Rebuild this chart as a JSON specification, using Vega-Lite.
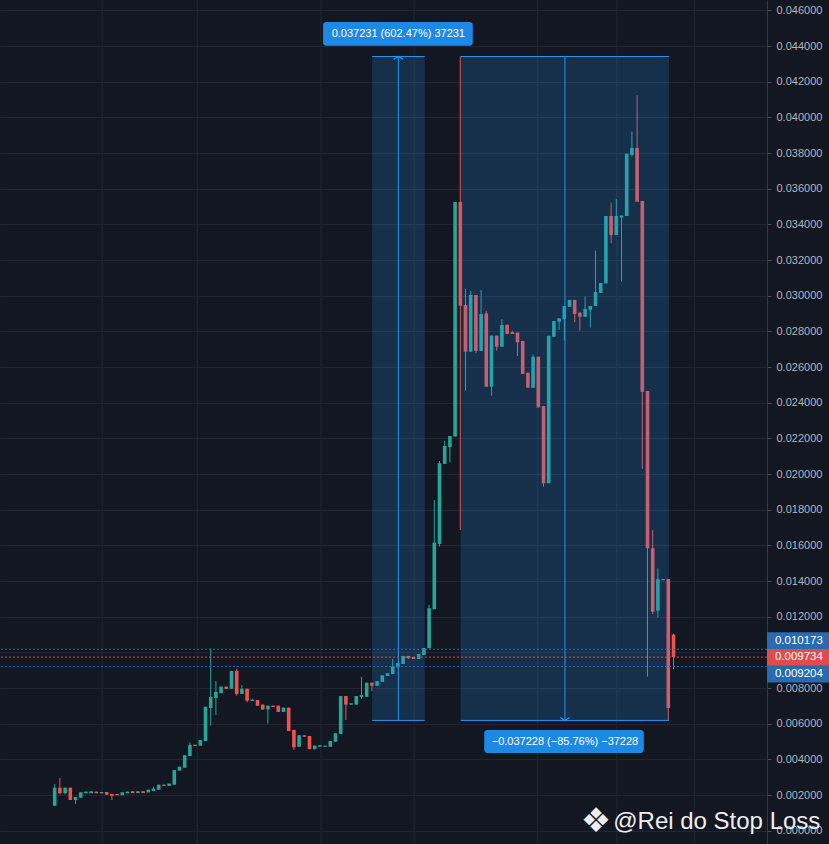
{
  "$schema": "https://vega.github.io/schema/vega-lite/v6.json",
  "width": 767,
  "height": 844,
  "autosize": {"type": "none"},
  "padding": {"left": 0, "top": 0, "right": 62, "bottom": 0},
  "background": "#131722",
  "config": {"view": {"stroke": null}, "font": "Liberation Sans", "scale": {"continuousPadding": 0}},
  "resolve": {"axis": {"y": "independent"}},
  "datasets": {
    "candles": [
      {"i": 0, "o": 0.0014, "h": 0.00262, "l": 0.0014, "c": 0.00241},
      {"i": 1, "o": 0.00241, "h": 0.00296, "l": 0.00204, "c": 0.0021},
      {"i": 2, "o": 0.0021, "h": 0.00241, "l": 0.00204, "c": 0.00241},
      {"i": 3, "o": 0.00241, "h": 0.00241, "l": 0.00172, "c": 0.00172},
      {"i": 4, "o": 0.00172, "h": 0.00189, "l": 0.0015, "c": 0.00189},
      {"i": 5, "o": 0.00185, "h": 0.00215, "l": 0.00185, "c": 0.00215},
      {"i": 6, "o": 0.0021, "h": 0.00219, "l": 0.0021, "c": 0.00219},
      {"i": 7, "o": 0.0021, "h": 0.00221, "l": 0.0021, "c": 0.00221},
      {"i": 8, "o": 0.00219, "h": 0.00219, "l": 0.0021, "c": 0.0021},
      {"i": 9, "o": 0.0021, "h": 0.00217, "l": 0.0021, "c": 0.00217},
      {"i": 10, "o": 0.00217, "h": 0.00217, "l": 0.00202, "c": 0.00202},
      {"i": 11, "o": 0.00206, "h": 0.00206, "l": 0.00172, "c": 0.00196},
      {"i": 12, "o": 0.00206, "h": 0.00206, "l": 0.00199, "c": 0.00199},
      {"i": 13, "o": 0.00199, "h": 0.00215, "l": 0.00199, "c": 0.00215},
      {"i": 14, "o": 0.0021, "h": 0.00219, "l": 0.0021, "c": 0.00219},
      {"i": 15, "o": 0.00221, "h": 0.00221, "l": 0.00211, "c": 0.00211},
      {"i": 16, "o": 0.00211, "h": 0.00221, "l": 0.00211, "c": 0.00221},
      {"i": 17, "o": 0.00221, "h": 0.00221, "l": 0.00211, "c": 0.00211},
      {"i": 18, "o": 0.00215, "h": 0.0023, "l": 0.00215, "c": 0.0023},
      {"i": 19, "o": 0.00223, "h": 0.00247, "l": 0.00223, "c": 0.00236},
      {"i": 20, "o": 0.0023, "h": 0.00258, "l": 0.0023, "c": 0.00258},
      {"i": 21, "o": 0.00258, "h": 0.00258, "l": 0.00251, "c": 0.00251},
      {"i": 22, "o": 0.00251, "h": 0.00264, "l": 0.00251, "c": 0.00264},
      {"i": 23, "o": 0.00258, "h": 0.0034, "l": 0.00258, "c": 0.0034},
      {"i": 24, "o": 0.00337, "h": 0.00359, "l": 0.00337, "c": 0.00359},
      {"i": 25, "o": 0.00353, "h": 0.00423, "l": 0.00353, "c": 0.00423},
      {"i": 26, "o": 0.00419, "h": 0.00494, "l": 0.00419, "c": 0.00481},
      {"i": 27, "o": 0.00482, "h": 0.00482, "l": 0.00475, "c": 0.00475},
      {"i": 28, "o": 0.00477, "h": 0.00509, "l": 0.00477, "c": 0.00509},
      {"i": 29, "o": 0.00503, "h": 0.00695, "l": 0.00503, "c": 0.00695},
      {"i": 30, "o": 0.00688, "h": 0.01023, "l": 0.00589, "c": 0.0075},
      {"i": 31, "o": 0.00744, "h": 0.00839, "l": 0.00649, "c": 0.00778},
      {"i": 32, "o": 0.00771, "h": 0.00808, "l": 0.00771, "c": 0.00808},
      {"i": 33, "o": 0.00808, "h": 0.00808, "l": 0.00795, "c": 0.00795},
      {"i": 34, "o": 0.00796, "h": 0.00896, "l": 0.00796, "c": 0.00896},
      {"i": 35, "o": 0.00896, "h": 0.00907, "l": 0.00757, "c": 0.00767},
      {"i": 36, "o": 0.00767, "h": 0.00817, "l": 0.00767, "c": 0.00796},
      {"i": 37, "o": 0.00796, "h": 0.00796, "l": 0.0072, "c": 0.00729},
      {"i": 38, "o": 0.00727, "h": 0.0074, "l": 0.00727, "c": 0.00735},
      {"i": 39, "o": 0.00733, "h": 0.00733, "l": 0.00701, "c": 0.00701},
      {"i": 40, "o": 0.00707, "h": 0.00707, "l": 0.00679, "c": 0.00679},
      {"i": 41, "o": 0.00681, "h": 0.00701, "l": 0.006, "c": 0.00701},
      {"i": 42, "o": 0.00701, "h": 0.00701, "l": 0.00694, "c": 0.00694},
      {"i": 43, "o": 0.00701, "h": 0.00701, "l": 0.00666, "c": 0.00666},
      {"i": 44, "o": 0.00666, "h": 0.0069, "l": 0.00666, "c": 0.0069},
      {"i": 45, "o": 0.0069, "h": 0.0069, "l": 0.00559, "c": 0.00559},
      {"i": 46, "o": 0.00565, "h": 0.00565, "l": 0.00453, "c": 0.00468},
      {"i": 47, "o": 0.00471, "h": 0.00535, "l": 0.00471, "c": 0.00535},
      {"i": 48, "o": 0.00535, "h": 0.00535, "l": 0.00527, "c": 0.00527},
      {"i": 49, "o": 0.00531, "h": 0.00531, "l": 0.00457, "c": 0.00457},
      {"i": 50, "o": 0.00457, "h": 0.00477, "l": 0.00457, "c": 0.00477},
      {"i": 51, "o": 0.00471, "h": 0.00479, "l": 0.00471, "c": 0.00479},
      {"i": 52, "o": 0.00471, "h": 0.00477, "l": 0.00471, "c": 0.00477},
      {"i": 53, "o": 0.00471, "h": 0.00503, "l": 0.00471, "c": 0.00503},
      {"i": 54, "o": 0.00499, "h": 0.00546, "l": 0.00499, "c": 0.00546},
      {"i": 55, "o": 0.00542, "h": 0.00755, "l": 0.00542, "c": 0.00755},
      {"i": 56, "o": 0.00755, "h": 0.00755, "l": 0.00621, "c": 0.00707},
      {"i": 57, "o": 0.00707, "h": 0.00714, "l": 0.00707, "c": 0.00714},
      {"i": 58, "o": 0.00707, "h": 0.00755, "l": 0.00707, "c": 0.00755},
      {"i": 59, "o": 0.0075, "h": 0.00862, "l": 0.0074, "c": 0.0076},
      {"i": 60, "o": 0.00751, "h": 0.0083, "l": 0.00751, "c": 0.0083},
      {"i": 61, "o": 0.0083, "h": 0.0083, "l": 0.00783, "c": 0.00813},
      {"i": 62, "o": 0.00813, "h": 0.00839, "l": 0.00813, "c": 0.00839},
      {"i": 63, "o": 0.00834, "h": 0.00871, "l": 0.00834, "c": 0.00871},
      {"i": 64, "o": 0.00868, "h": 0.00883, "l": 0.00867, "c": 0.00883},
      {"i": 65, "o": 0.00879, "h": 0.00963, "l": 0.00879, "c": 0.0092},
      {"i": 66, "o": 0.00916, "h": 0.0094, "l": 0.00916, "c": 0.0094},
      {"i": 67, "o": 0.00935, "h": 0.0098, "l": 0.00935, "c": 0.0098},
      {"i": 68, "o": 0.0098, "h": 0.0098, "l": 0.00963, "c": 0.00967},
      {"i": 69, "o": 0.00974, "h": 0.00974, "l": 0.00963, "c": 0.00963},
      {"i": 70, "o": 0.00963, "h": 0.00991, "l": 0.00963, "c": 0.00991},
      {"i": 71, "o": 0.00985, "h": 0.01024, "l": 0.00985, "c": 0.01024},
      {"i": 72, "o": 0.01023, "h": 0.01266, "l": 0.01023, "c": 0.01247},
      {"i": 73, "o": 0.01242, "h": 0.01854, "l": 0.01242, "c": 0.01615},
      {"i": 74, "o": 0.01608, "h": 0.02073, "l": 0.01593, "c": 0.0206},
      {"i": 75, "o": 0.02057, "h": 0.02187, "l": 0.02057, "c": 0.02157},
      {"i": 76, "o": 0.02151, "h": 0.02213, "l": 0.02066, "c": 0.02213},
      {"i": 77, "o": 0.0221, "h": 0.03525, "l": 0.0221, "c": 0.03525},
      {"i": 78, "o": 0.03525, "h": 0.04341, "l": 0.01686, "c": 0.02944},
      {"i": 79, "o": 0.02948, "h": 0.03039, "l": 0.02468, "c": 0.02686},
      {"i": 80, "o": 0.02686, "h": 0.03026, "l": 0.02686, "c": 0.03004},
      {"i": 81, "o": 0.03004, "h": 0.03004, "l": 0.02677, "c": 0.0269},
      {"i": 82, "o": 0.0269, "h": 0.03032, "l": 0.0269, "c": 0.02897},
      {"i": 83, "o": 0.02901, "h": 0.02914, "l": 0.0249, "c": 0.0249},
      {"i": 84, "o": 0.0249, "h": 0.02776, "l": 0.02439, "c": 0.02776},
      {"i": 85, "o": 0.02776, "h": 0.02776, "l": 0.02692, "c": 0.02714},
      {"i": 86, "o": 0.02714, "h": 0.02869, "l": 0.02714, "c": 0.02836},
      {"i": 87, "o": 0.02836, "h": 0.02842, "l": 0.02785, "c": 0.02785},
      {"i": 88, "o": 0.02795, "h": 0.02803, "l": 0.02785, "c": 0.02785},
      {"i": 89, "o": 0.02793, "h": 0.02793, "l": 0.02662, "c": 0.02739},
      {"i": 90, "o": 0.02746, "h": 0.02746, "l": 0.02561, "c": 0.02561},
      {"i": 91, "o": 0.02568, "h": 0.02568, "l": 0.02484, "c": 0.02484},
      {"i": 92, "o": 0.02484, "h": 0.02671, "l": 0.02484, "c": 0.02658},
      {"i": 93, "o": 0.02658, "h": 0.02658, "l": 0.02374, "c": 0.02374},
      {"i": 94, "o": 0.02381, "h": 0.02381, "l": 0.01929, "c": 0.01948},
      {"i": 95, "o": 0.01948, "h": 0.02776, "l": 0.01948, "c": 0.02776},
      {"i": 96, "o": 0.0277, "h": 0.02858, "l": 0.0277, "c": 0.02858},
      {"i": 97, "o": 0.02854, "h": 0.02873, "l": 0.02808, "c": 0.02873},
      {"i": 98, "o": 0.02868, "h": 0.02942, "l": 0.02748, "c": 0.02942},
      {"i": 99, "o": 0.02938, "h": 0.02976, "l": 0.02938, "c": 0.02976},
      {"i": 100, "o": 0.02976, "h": 0.02976, "l": 0.02851, "c": 0.02897},
      {"i": 101, "o": 0.02905, "h": 0.02905, "l": 0.02804, "c": 0.02882},
      {"i": 102, "o": 0.02882, "h": 0.02995, "l": 0.02882, "c": 0.02925},
      {"i": 103, "o": 0.0292, "h": 0.02942, "l": 0.02821, "c": 0.02942},
      {"i": 104, "o": 0.02942, "h": 0.03252, "l": 0.02942, "c": 0.03021},
      {"i": 105, "o": 0.03016, "h": 0.03071, "l": 0.03016, "c": 0.03071},
      {"i": 106, "o": 0.03069, "h": 0.03447, "l": 0.03069, "c": 0.03447},
      {"i": 107, "o": 0.03447, "h": 0.03522, "l": 0.03294, "c": 0.0334},
      {"i": 108, "o": 0.0334, "h": 0.03542, "l": 0.0334, "c": 0.03447},
      {"i": 109, "o": 0.03438, "h": 0.03449, "l": 0.03079, "c": 0.03449},
      {"i": 110, "o": 0.03447, "h": 0.03796, "l": 0.03447, "c": 0.03796},
      {"i": 111, "o": 0.03789, "h": 0.0392, "l": 0.0378, "c": 0.03828},
      {"i": 112, "o": 0.03828, "h": 0.04125, "l": 0.03527, "c": 0.03527},
      {"i": 113, "o": 0.03531, "h": 0.03531, "l": 0.02028, "c": 0.02462},
      {"i": 114, "o": 0.02466, "h": 0.02466, "l": 0.00864, "c": 0.01584},
      {"i": 115, "o": 0.01584, "h": 0.01686, "l": 0.01215, "c": 0.01228},
      {"i": 116, "o": 0.01234, "h": 0.01471, "l": 0.01195, "c": 0.01411},
      {"i": 117, "o": 0.01411, "h": 0.01411, "l": 0.01405, "c": 0.01405},
      {"i": 118, "o": 0.01411, "h": 0.01411, "l": 0.00618, "c": 0.00688},
      {"i": 119, "o": 0.011, "h": 0.01105, "l": 0.00905, "c": 0.009734}
    ],
    "timegrid": [{"i": 9.1}, {"i": 27.4}, {"i": 51.2}, {"i": 69.1}, {"i": 92.9}, {"i": 108.1}, {"i": 123.0}],
    "ranges": [
      {"start": 61.05, "end": 71.15, "mid": 66.08, "lo": 0.006183, "hi": 0.043411, "tip": 0.043411, "dir": "up"},
      {"start": 78.08, "end": 118.13, "mid": 98.13, "lo": 0.006183, "hi": 0.043411, "tip": 0.006183, "dir": "down"}
    ],
    "rangelabels": [
      {"start": 51.6, "end": 80.4, "mid": 66.08, "lo": 0.04401, "hi": 0.04535, "ty": 0.04468, "text": "0.037231 (602.47%) 37231"},
      {"start": 82.6, "end": 113.3, "mid": 98.13, "lo": 0.00436, "hi": 0.00564, "ty": 0.005, "text": "−0.037228 (−85.76%) −37228"}
    ],
    "pricelines": [
      {"p": 0.010173, "tag": 0.010654, "label": "0.010173", "kind": "level"},
      {"p": 0.009734, "tag": 0.009718, "label": "0.009734", "kind": "last"},
      {"p": 0.009204, "tag": 0.008787, "label": "0.009204", "kind": "level"}
    ]
  },
  "layer": [
    {
      "data": {"name": "timegrid"},
      "mark": {"type": "rule", "color": "#232632", "strokeWidth": 1},
      "encoding": {
        "x": {"field": "i", "type": "quantitative", "scale": {"domain": [-10.52, 136.98], "nice": false, "zero": false, "padding": 0}, "axis": null}
      }
    },
    {
      "data": {"name": "candles"},
      "mark": {"type": "rule", "strokeWidth": 1},
      "encoding": {
        "x": {"field": "i", "type": "quantitative", "scale": {"domain": [-10.52, 136.98], "nice": false, "zero": false, "padding": 0}, "axis": null},
        "y": {
          "field": "l", "type": "quantitative", "title": null,
          "scale": {"domain": [-0.000746, 0.04658], "nice": false, "zero": false, "padding": 0},
          "axis": {
            "orient": "right", "title": null,
            "values": [0, 0.002, 0.004, 0.006, 0.008, 0.010, 0.012, 0.014, 0.016, 0.018, 0.020, 0.022, 0.024, 0.026, 0.028, 0.030, 0.032, 0.034, 0.036, 0.038, 0.040, 0.042, 0.044, 0.046],
            "format": ".6f",
            "labelExpr": "datum.value > 0.0099 && datum.value < 0.0101 ? '' : datum.label",
            "labelOverlap": false, "labelBound": false,
            "grid": true, "gridColor": "#232632", "gridWidth": 1,
            "domain": true, "domainColor": "#363a45",
            "ticks": true, "tickColor": "#4a4e5a", "tickSize": 4,
            "labelColor": "#b2b5be", "labelFontSize": 11, "labelPadding": 5, "labelFont": "Liberation Sans"
          }
        },
        "y2": {"field": "h"},
        "color": {"condition": {"test": "datum.c >= datum.o", "value": "#26a69a"}, "value": "#ef5350"}
      }
    },
    {
      "data": {"name": "candles"},
      "mark": {"type": "bar", "width": 3.6},
      "encoding": {
        "x": {"field": "i", "type": "quantitative", "scale": {"domain": [-10.52, 136.98], "nice": false, "zero": false, "padding": 0}, "axis": null},
        "y": {"field": "o", "type": "quantitative", "axis": null, "scale": {"domain": [-0.000746, 0.04658], "nice": false, "zero": false, "padding": 0}},
        "y2": {"field": "c"},
        "color": {"condition": {"test": "datum.c >= datum.o", "value": "#26a69a"}, "value": "#ef5350"}
      }
    },
    {
      "data": {"name": "ranges"},
      "mark": {"type": "rect", "color": "#2196f3", "opacity": 0.2},
      "encoding": {
        "x": {"field": "start", "type": "quantitative", "scale": {"domain": [-10.52, 136.98], "nice": false, "zero": false, "padding": 0}, "axis": null},
        "x2": {"field": "end"},
        "y": {"field": "lo", "type": "quantitative", "axis": null, "scale": {"domain": [-0.000746, 0.04658], "nice": false, "zero": false, "padding": 0}},
        "y2": {"field": "hi"}
      }
    },
    {
      "data": {"name": "ranges"},
      "mark": {"type": "rule", "color": "#2196f3", "strokeWidth": 1},
      "encoding": {
        "x": {"field": "start", "type": "quantitative", "scale": {"domain": [-10.52, 136.98], "nice": false, "zero": false, "padding": 0}, "axis": null},
        "x2": {"field": "end"},
        "y": {"field": "hi", "type": "quantitative", "axis": null, "scale": {"domain": [-0.000746, 0.04658], "nice": false, "zero": false, "padding": 0}}
      }
    },
    {
      "data": {"name": "ranges"},
      "mark": {"type": "rule", "color": "#2196f3", "strokeWidth": 1},
      "encoding": {
        "x": {"field": "start", "type": "quantitative", "scale": {"domain": [-10.52, 136.98], "nice": false, "zero": false, "padding": 0}, "axis": null},
        "x2": {"field": "end"},
        "y": {"field": "lo", "type": "quantitative", "axis": null, "scale": {"domain": [-0.000746, 0.04658], "nice": false, "zero": false, "padding": 0}}
      }
    },
    {
      "data": {"name": "ranges"},
      "mark": {"type": "rule", "color": "#2196f3", "strokeWidth": 1},
      "encoding": {
        "x": {"field": "mid", "type": "quantitative", "scale": {"domain": [-10.52, 136.98], "nice": false, "zero": false, "padding": 0}, "axis": null},
        "y": {"field": "lo", "type": "quantitative", "axis": null, "scale": {"domain": [-0.000746, 0.04658], "nice": false, "zero": false, "padding": 0}},
        "y2": {"field": "hi"}
      }
    },
    {
      "data": {"name": "ranges"},
      "mark": {"type": "point", "filled": false, "color": "#2196f3", "strokeWidth": 1.2, "size": 90, "opacity": 1},
      "encoding": {
        "x": {"field": "mid", "type": "quantitative", "scale": {"domain": [-10.52, 136.98], "nice": false, "zero": false, "padding": 0}, "axis": null},
        "y": {"field": "tip", "type": "quantitative", "axis": null, "scale": {"domain": [-0.000746, 0.04658], "nice": false, "zero": false, "padding": 0}},
        "shape": {"field": "dir", "type": "nominal", "scale": {"domain": ["up", "down"], "range": ["M-1,0.6L0,0L1,0.6", "M-1,-0.6L0,0L1,-0.6"]}, "legend": null}
      }
    },
    {
      "data": {"name": "pricelines"},
      "mark": {"type": "rule", "strokeWidth": 1, "strokeDash": [2, 2]},
      "encoding": {
        "y": {"field": "p", "type": "quantitative", "axis": null, "scale": {"domain": [-0.000746, 0.04658], "nice": false, "zero": false, "padding": 0}},
        "color": {"field": "kind", "type": "nominal", "scale": {"domain": ["level", "last"], "range": ["#2a6bb0", "#e04b4b"]}, "legend": null}
      }
    },
    {
      "data": {"name": "rangelabels"},
      "mark": {"type": "rect", "color": "#1e88e5", "cornerRadius": 3},
      "encoding": {
        "x": {"field": "start", "type": "quantitative", "scale": {"domain": [-10.52, 136.98], "nice": false, "zero": false, "padding": 0}, "axis": null},
        "x2": {"field": "end"},
        "y": {"field": "lo", "type": "quantitative", "axis": null, "scale": {"domain": [-0.000746, 0.04658], "nice": false, "zero": false, "padding": 0}},
        "y2": {"field": "hi"}
      }
    },
    {
      "data": {"name": "rangelabels"},
      "mark": {"type": "text", "color": "#ffffff", "fontSize": 11, "align": "center", "baseline": "middle", "font": "Liberation Sans"},
      "encoding": {
        "x": {"field": "mid", "type": "quantitative", "scale": {"domain": [-10.52, 136.98], "nice": false, "zero": false, "padding": 0}, "axis": null},
        "y": {"field": "ty", "type": "quantitative", "axis": null, "scale": {"domain": [-0.000746, 0.04658], "nice": false, "zero": false, "padding": 0}},
        "text": {"field": "text"}
      }
    },
    {
      "data": {"name": "pricelines"},
      "mark": {"type": "bar", "size": 17},
      "encoding": {
        "x": {"datum": 136.98, "type": "quantitative", "scale": {"domain": [-10.52, 136.98], "nice": false, "zero": false, "padding": 0}, "axis": null},
        "x2": {"datum": 149.0},
        "y": {"field": "tag", "type": "quantitative", "axis": null, "scale": {"domain": [-0.000746, 0.04658], "nice": false, "zero": false, "padding": 0}},
        "color": {"field": "kind", "type": "nominal", "scale": {"domain": ["level", "last"], "range": ["#4a9be8", "#ef5350"]}, "legend": null}
      }
    },
    {
      "data": {"name": "pricelines"},
      "mark": {"type": "text", "color": "#ffffff", "fontSize": 11.5, "align": "left", "baseline": "middle", "font": "Liberation Sans"},
      "encoding": {
        "x": {"datum": 138.5, "type": "quantitative", "scale": {"domain": [-10.52, 136.98], "nice": false, "zero": false, "padding": 0}, "axis": null},
        "y": {"field": "tag", "type": "quantitative", "axis": null, "scale": {"domain": [-0.000746, 0.04658], "nice": false, "zero": false, "padding": 0}},
        "text": {"field": "label"}
      }
    },
    {
      "data": {"values": [{"mark": "❖"}]},
      "mark": {"type": "text", "color": "#eeeeee", "fontSize": 34, "align": "center", "baseline": "middle", "font": "DejaVu Sans"},
      "encoding": {
        "x": {"datum": 104.1, "type": "quantitative", "scale": {"domain": [-10.52, 136.98], "nice": false, "zero": false, "padding": 0}, "axis": null},
        "y": {"datum": 0.0005, "type": "quantitative", "axis": null, "scale": {"domain": [-0.000746, 0.04658], "nice": false, "zero": false, "padding": 0}},
        "text": {"field": "mark"}
      }
    },
    {
      "data": {"values": [{"t": "@Rei do Stop Loss"}]},
      "mark": {"type": "text", "color": "#eeeeee", "fontSize": 24, "align": "left", "baseline": "middle", "font": "Liberation Sans"},
      "encoding": {
        "x": {"datum": 107.4, "type": "quantitative", "scale": {"domain": [-10.52, 136.98], "nice": false, "zero": false, "padding": 0}, "axis": null},
        "y": {"datum": 0.0005, "type": "quantitative", "axis": null, "scale": {"domain": [-0.000746, 0.04658], "nice": false, "zero": false, "padding": 0}},
        "text": {"field": "t"}
      }
    }
  ]
}
